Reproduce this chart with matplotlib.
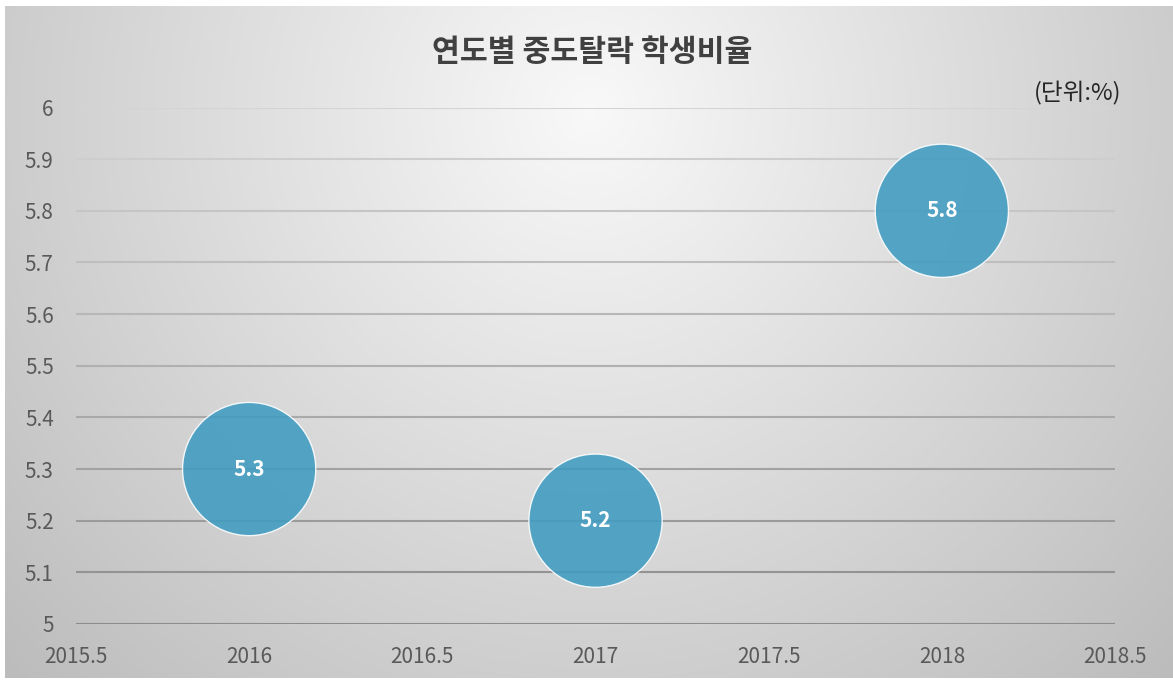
import numpy as np
import matplotlib
matplotlib.use("Agg")
import matplotlib.pyplot as plt

plt.rcParams['font.family'] = ['Noto Sans CJK KR', 'DejaVu Sans']

# ---- data ----
years = [2016, 2017, 2018]
rates = [5.3, 5.2, 5.8]
bubble_sizes = [1, 1, 1]
title = "연도별 중도탈락 학생비율"
unit_label = "(단위:%)"
x_ticks = [2015.5, 2016, 2016.5, 2017, 2017.5, 2018, 2018.5]
y_ticks = [5.0, 5.1, 5.2, 5.3, 5.4, 5.5, 5.6, 5.7, 5.8, 5.9, 6.0]

W, H = 1173, 682
fig = plt.figure(figsize=(W / 100, H / 100), dpi=100)
fig.patch.set_facecolor('white')

# background radial gradient (chart area frame)
x0, x1, y0, y1 = 5, 1173, 6, 678
bg = fig.add_axes([x0 / W, 1 - y1 / H, (x1 - x0) / W, (y1 - y0) / H])
xx, yy = np.meshgrid(np.arange(x0, x1), np.arange(y0, y1))
cx, cy = 590, 110
d = np.sqrt((xx - cx) ** 2 + (yy - cy) ** 2) / 750.0
v = np.clip(0.975 - 0.22 * d, 0.74, 1.0)
bg.imshow(np.dstack([v, v, v]), aspect='auto', extent=[0, 1, 0, 1], interpolation='bilinear')
bg.set_axis_off()
bg.set_zorder(0)

# main axes
left, right, top, bottom = 76, 1115, 107.5, 624
ax = fig.add_axes([left / W, 1 - bottom / H, (right - left) / W, (bottom - top) / H])
ax.set_zorder(1)
ax.patch.set_alpha(0)
ax.set_xlim(x_ticks[0], x_ticks[-1])
ax.set_ylim(y_ticks[0], y_ticks[-1])

# gridlines with gradient shading (lighter at top, darker at bottom)
for yv in y_ticks:
    t = (yv - y_ticks[0]) / (y_ticks[-1] - y_ticks[0])
    g = 0.55 + 0.28 * t
    ax.axhline(yv, color=(g, g, g), lw=1.5, zorder=1)

# bubbles
base = 9200
ax.scatter(years, rates, s=[b * base for b in bubble_sizes], color='#3f9bc1', alpha=0.88,
           edgecolors='white', linewidths=1.0, zorder=3)
for xv, yv in zip(years, rates):
    ax.text(xv, yv, f"{yv:.1f}", ha='center', va='center', color='white',
            fontsize=15, fontweight='bold', zorder=4)

ax.set_xticks(x_ticks)
ax.set_xticklabels([f"{v:g}" for v in x_ticks])
ax.set_yticks(y_ticks)
ax.set_yticklabels([f"{v:g}" for v in y_ticks])
ax.tick_params(axis='both', length=0, labelsize=15, labelcolor='#595959')
ax.tick_params(axis='x', pad=16)
ax.tick_params(axis='y', pad=16)
for s in ax.spines.values():
    s.set_visible(False)

fig.text(592 / W, 1 - 52 / H, title, ha='center', va='center', fontsize=21.8,
         fontweight='bold', color='#404040')
fig.text(1121 / W, 1 - 93 / H, unit_label, ha='right', va='center', fontsize=17,
         color='#262626')

fig.savefig('out.png', dpi=100)
